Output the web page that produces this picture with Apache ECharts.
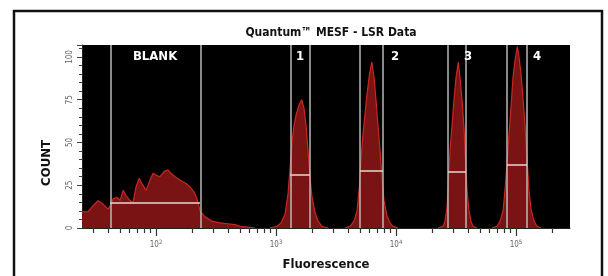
<!DOCTYPE html>
<html>
<head>
<meta charset="utf-8">
<script src="https://cdn.jsdelivr.net/npm/echarts@6/dist/echarts.min.js"></script>
<style>
  html, body { margin: 0; padding: 0; background: #fff; }
  #chart { width: 608px; height: 276px; }
</style>
</head>
<body>
<div id="chart"></div>
<script>
// ── DATA ───────────────────────────────────────────
// x positions are log10(fluorescence), y is event count
const blankLog = [1.383, 1.433, 1.475, 1.517, 1.558, 1.600, 1.617, 1.642, 1.675, 1.700, 1.725, 1.750, 1.783, 1.808,
  1.833, 1.858, 1.883, 1.917, 1.950, 1.975, 2.000, 2.033, 2.067, 2.100, 2.125, 2.158, 2.200, 2.250, 2.283, 2.317,
  2.342, 2.367, 2.408, 2.467, 2.533, 2.600, 2.658, 2.700, 2.767, 2.825];
const blankCount = [9.5, 9.5, 13, 16, 14, 11, 13, 17, 18, 16, 22, 19, 16, 15,
  24, 29, 26, 22, 28, 32, 31, 30, 33, 34, 32, 30, 28, 26, 24, 21,
  17, 10, 6.5, 4, 3, 2.5, 2, 1, 0.5, 0];

const peak1Log = [2.950, 3.008, 3.042, 3.075, 3.100, 3.117, 3.133, 3.150, 3.167, 3.192, 3.214, 3.233, 3.250, 3.267,
  3.283, 3.300, 3.325, 3.350, 3.383, 3.433];
const peak1Count = [0, 1, 3, 8, 20, 35, 50, 60, 66, 72, 75, 70, 60, 45, 30, 18, 9, 4, 1, 0];

const peak2Log = [3.575, 3.617, 3.650, 3.675, 3.696, 3.708, 3.725, 3.742, 3.758, 3.779, 3.798, 3.817, 3.833, 3.850,
  3.867, 3.883, 3.900, 3.925, 3.950, 3.975, 4.017];
const peak2Count = [0, 1, 4, 10, 25, 40, 55, 67, 78, 90, 97, 88, 75, 60, 45, 30, 16, 7, 3, 1, 0];

const peak3Log = [4.350, 4.392, 4.408, 4.425, 4.438, 4.450, 4.467, 4.483, 4.500, 4.519, 4.533, 4.550, 4.567, 4.579,
  4.592, 4.608, 4.625, 4.642, 4.675];
const peak3Count = [0, 1, 4, 12, 30, 45, 60, 75, 88, 97, 88, 75, 58, 40, 22, 10, 4, 1, 0];

const peak4Log = [4.800, 4.842, 4.867, 4.892, 4.908, 4.925, 4.942, 4.958, 4.975, 4.992, 5.011, 5.025, 5.042, 5.058,
  5.075, 5.092, 5.108, 5.125, 5.150, 5.175, 5.208];
const peak4Count = [0, 1, 4, 10, 22, 38, 55, 70, 88, 98, 106, 100, 90, 76, 60, 40, 22, 11, 4, 1, 0];

// gates: region bounds, mean marker height and label
const gateNames = ['BLANK', '1', '2', '3', '4'];
const gateLo    = [1.617, 3.117, 3.700, 4.433, 4.925];
const gateHi    = [2.367, 3.283, 3.892, 4.583, 5.092];
const gateMean  = [15, 31, 33.3, 33, 36.8];
const gateLabelX = [1.992, 3.200, 3.992, 4.600, 5.175];

// axis ticks
const decades = [2, 3, 4, 5];
const minorMult = [2, 3, 4, 5, 6, 7, 8, 9];
const yTicks = [0, 25, 50, 75, 100];

const X_MIN = 1.383, X_MAX = 5.45, Y_MAX = 107;

const FONT = "'Liberation Sans Narrow', 'DejaVu Sans Condensed', 'Arial Narrow', sans-serif";
const FILL = '#7a1414';
const EDGE = '#c8281f';

// ── BUILD ──────────────────────────────────────────
const zip = (xs, ys) => xs.map((x, i) => [x, ys[i]]);

const minorTicks = [];
[1, 2, 3, 4, 5].forEach(n => minorMult.forEach(k => {
  const v = Math.log10(k) + n;
  if (v > X_MIN && v < X_MAX) minorTicks.push(v);
}));

const histSeries = [
  zip(blankLog, blankCount),
  zip(peak1Log, peak1Count),
  zip(peak2Log, peak2Count),
  zip(peak3Log, peak3Count),
  zip(peak4Log, peak4Count),
].map(d => ({
  type: 'line', data: d, xAxisIndex: 0, symbol: 'none', smooth: false, z: 2,
  lineStyle: { color: EDGE, width: 1.2 },
  areaStyle: { color: FILL, opacity: 1 },
  silent: true,
}));

const gateLineStyle = { color: 'rgba(190,190,190,0.72)', width: 2, type: 'solid' };
const meanLineStyle = { color: 'rgba(225,200,200,0.8)', width: 2, type: 'solid' };

const gateMarks = [];
gateNames.forEach((g, i) => {
  gateMarks.push({ xAxis: gateLo[i], lineStyle: gateLineStyle });
  gateMarks.push({ xAxis: gateHi[i], lineStyle: gateLineStyle });
  gateMarks.push([
    { coord: [gateLo[i], gateMean[i]], lineStyle: meanLineStyle },
    { coord: [gateHi[i], gateMean[i]] },
  ]);
});

const chart = echarts.init(document.getElementById('chart'), null, { renderer: 'canvas' });

chart.setOption({
  animation: false,
  backgroundColor: '#fff',
  title: {
    text: 'Quantum™ MESF - LSR Data',
    left: 326, top: 22, textAlign: 'center',
    textStyle: { fontFamily: FONT, fontWeight: 'bold', fontSize: 12, color: '#111' },
  },
  graphic: [
    {
      type: 'rect', shape: { x: 14, y: 11, width: 588, height: 300 },
      style: { fill: 'none', stroke: '#111', lineWidth: 2.5 }, silent: true,
    },
    {
      type: 'text', x: 47, y: 163, rotation: Math.PI / 2, silent: true,
      style: {
        text: 'COUNT', fontFamily: FONT, fontWeight: 'bold', fontSize: 13, fill: '#111',
        align: 'center', verticalAlign: 'middle',
      },
    },
  ],
  grid: {
    left: 82, right: 38, top: 45, bottom: 48,
    show: true, backgroundColor: '#000', borderWidth: 0,
  },
  xAxis: [
    {
      type: 'value', min: X_MIN, max: X_MAX,
      name: 'Fluorescence', nameLocation: 'middle', nameGap: 30,
      nameTextStyle: { fontFamily: FONT, fontWeight: 'bold', fontSize: 13, color: '#111' },
      axisLine: { show: true, lineStyle: { color: '#222', width: 1 } },
      axisTick: { show: true, length: 5, lineStyle: { color: '#333', width: 1.2 }, customValues: minorTicks },
      axisLabel: { show: false },
      splitLine: { show: false },
    },
    {
      type: 'value', min: X_MIN, max: X_MAX, position: 'bottom',
      axisLine: { show: false },
      axisTick: { show: true, length: 8, lineStyle: { color: '#333', width: 1.2 }, customValues: decades },
      axisLabel: {
        show: true, customValues: decades, margin: 11,
        formatter: v => '10{sup|' + v + '}',
        color: '#666', fontFamily: FONT, fontSize: 8,
        rich: { sup: { fontSize: 6, color: '#666', verticalAlign: 'top', padding: [0, 0, 5, 0] } },
      },
      splitLine: { show: false },
    },
  ],
  yAxis: {
    type: 'value', min: 0, max: Y_MAX, interval: 25,
    axisLine: { show: true, lineStyle: { color: '#222', width: 1 } },
    axisTick: { show: true, length: 5, lineStyle: { color: '#444' } },
    minorTick: { show: true, splitNumber: 5, length: 3, lineStyle: { color: '#444' } },
    axisLabel: {
      rotate: 90, margin: 8, color: '#666', fontFamily: FONT, fontSize: 8,
      customValues: yTicks,
    },
    splitLine: { show: false },
  },
  series: [
    ...histSeries,
    {
      type: 'scatter', xAxisIndex: 0, z: 5, symbolSize: 0, silent: true,
      itemStyle: { opacity: 1 },
      data: gateNames.map((g, i) => ({ value: [gateLabelX[i], 100], name: g })),
      label: {
        show: true, position: 'inside', formatter: p => p.name, opacity: 1,
        color: '#ffffff', fontFamily: FONT, fontWeight: 'bold', fontSize: 13,
      },
      markLine: {
        silent: true, symbol: 'none', label: { show: false },
        data: gateMarks,
      },
    },
  ],
});
</script>
</body>
</html>
